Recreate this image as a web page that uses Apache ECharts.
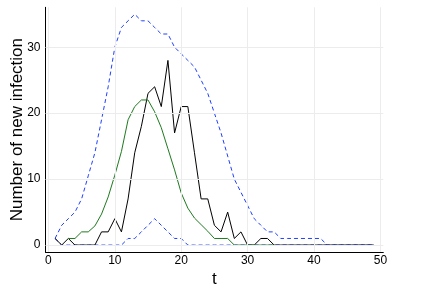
<!DOCTYPE html>
<html>
<head>
<meta charset="utf-8">
<script src="https://cdn.jsdelivr.net/npm/echarts@6/dist/echarts.min.js"></script>
<style>
html,body{margin:0;padding:0;background:#fff;}
#chart{width:421px;height:302px;}
</style>
</head>
<body>
<div id="chart"></div>
<script>
var t = [1,2,3,4,5,6,7,8,9,10,11,12,13,14,15,16,17,18,19,20,21,22,23,24,25,26,27,28,29,30,31,32,33,34,35,36,37,38,39,40,41,42,43,44,45,46,47,48,49];
var observed = [1,0,1,0,0,0,0,2,2,4,2,7,14,18,23,24,21,28,17,21,21,14,7,7,3,2,5,1,2,0,0,1,1,0,0,0,0,0,0,0,0,0,0,0,0,0,0,0,0];
var meanT = [3,4,5,6,7,8,9,10,11,12,13,14,15,16,17,18,19,20,21,22,23,24,25,26,27,28,29,30,31,32,33,34];
var modelMean = [1,1,2,2,2.9,4.7,7.3,10.6,14.2,19,21,22,22,20.2,17.8,14.6,11.4,7.9,5.6,4.1,3.1,2.1,1,1,1,0,0,0,0,0,0,0];
var upper = [1,3,4,5,7,10.5,14,19,24,30,33,34,35,34,34,33,32,32,30,29,28,27,25,23,20,17,13.5,10,8,6,4,3,2,2,1,1,1,1,1,1,1,0,0,0,0,0,0,0,0];
var lower = [1,0,0,0,0,0,0,0,0,0,0,1,1,2,3,4,3,2,1,1,0,0,0,0,0,0,0,0,0,0,0,0,0,0,0,0,0,0,0,0,0,0,0,0,0,0,0,0,0];
var xTicks = [0,10,20,30,40,50];
var yTicks = [0,10,20,30];

function pairs(xs, ys){ return xs.map(function(x,i){ return [x, ys[i]]; }); }

var gridData = xTicks.map(function(v){ return {xAxis: v}; }).concat(yTicks.map(function(v){ return {yAxis: v}; }));

var chart = echarts.init(document.getElementById('chart'), null, {renderer:'canvas'});
var font = 'Liberation Sans';
chart.setOption({
  animation: false,
  backgroundColor: '#ffffff',
  grid: {left: 45.5, right: 37.7, top: 7.3, bottom: 50, containLabel: false, outerBoundsMode: 'none'},
  xAxis: {
    type: 'value', min: -0.44, max: 50.44,
    name: 't', nameLocation: 'middle', nameGap: 19, nameMoveOverlap: false,
    nameTextStyle: {fontFamily: font, fontSize: 17, color: '#000'},
    axisLine: {show: true, onZero: false, lineStyle: {color: '#000', width: 1}},
    axisTick: {show: true, inside: true, length: 3, customValues: xTicks, lineStyle: {color: '#000'}},
    axisLabel: {customValues: xTicks, fontFamily: font, fontSize: 12, color: '#000', margin: 3},
    splitLine: {show: false}
  },
  yAxis: {
    type: 'value', min: -1.05, max: 36.05,
    name: 'Number of new infection', nameLocation: 'middle', nameGap: 20, nameMoveOverlap: false,
    nameTextStyle: {fontFamily: font, fontSize: 17, color: '#000'},
    axisLine: {show: true, onZero: false, lineStyle: {color: '#000', width: 1}},
    axisTick: {show: true, inside: true, length: 3, customValues: yTicks, lineStyle: {color: '#000'}},
    axisLabel: {customValues: yTicks, fontFamily: font, fontSize: 12, color: '#000', margin: 5},
    splitLine: {show: false}
  },
  series: [
    {
      type: 'line', data: [], silent: true,
      markLine: {silent: true, symbol: ['none','none'], label: {show: false},
        lineStyle: {color: '#ececec', width: 1, type: 'solid'}, data: gridData, animation: false}
    },
    {type: 'line', data: pairs(t, upper), showSymbol: false, symbol: 'none',
      lineStyle: {color: '#2040ff', width: 1, type: [4,3]}},
    {type: 'line', data: pairs(t, lower), showSymbol: false, symbol: 'none',
      lineStyle: {color: '#2040ff', width: 1, type: [4,3]}},
    {type: 'line', data: pairs(t, observed), showSymbol: false, symbol: 'none',
      lineStyle: {color: '#000000', width: 1}},
    {type: 'line', data: pairs(meanT, modelMean), showSymbol: false, symbol: 'none',
      lineStyle: {color: '#1e7a1e', width: 1}}
  ]
});
</script>
</body>
</html>
